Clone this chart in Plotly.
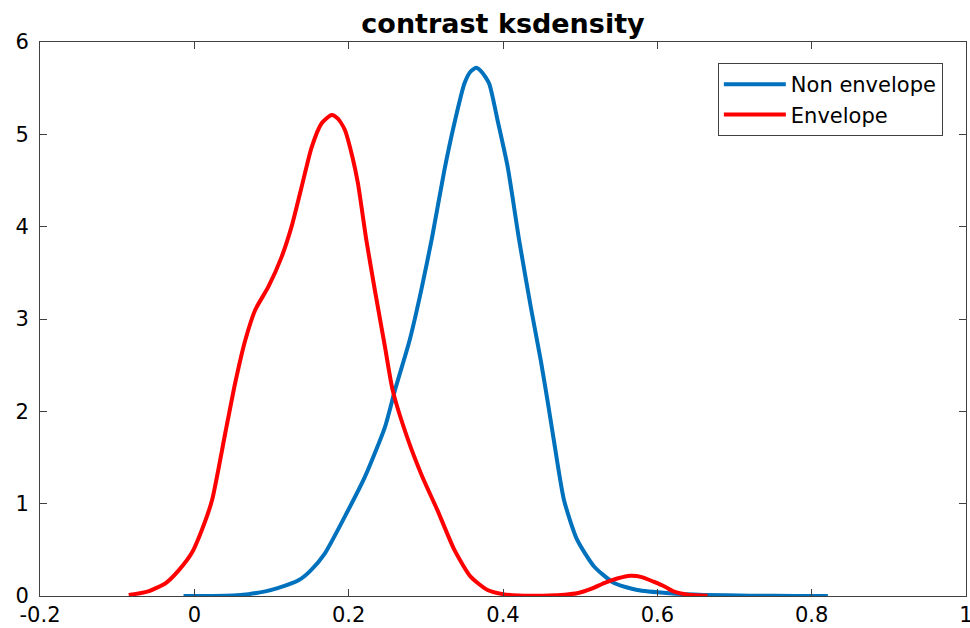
import plotly.graph_objects as go

# Envelope (red) kernel density estimate
x_env = [-0.085, -0.06, -0.037, -0.02, -0.003, 0.01, 0.023, 0.04, 0.053, 0.066, 0.079, 0.096,
         0.113, 0.126, 0.139, 0.152, 0.165, 0.178, 0.186, 0.195, 0.205, 0.212, 0.223, 0.234,
         0.247, 0.257, 0.277, 0.295, 0.315, 0.337, 0.358, 0.38, 0.40, 0.42, 0.44, 0.46, 0.48,
         0.496, 0.515, 0.531, 0.548, 0.565, 0.58, 0.595, 0.61, 0.621, 0.64, 0.665]
y_env = [0.01, 0.05, 0.14, 0.28, 0.47, 0.72, 1.04, 1.76, 2.31, 2.77, 3.10, 3.35,
         3.67, 4.0, 4.43, 4.86, 5.12, 5.21, 5.17, 5.05, 4.75, 4.47, 3.85, 3.31,
         2.70, 2.23, 1.69, 1.30, 0.93, 0.50, 0.21, 0.065, 0.02, 0.005, 0.003, 0.005, 0.015,
         0.03, 0.08, 0.14, 0.19, 0.22, 0.205, 0.155, 0.10, 0.05, 0.015, 0.002]

# Non envelope (blue) kernel density estimate
x_non = [-0.014, 0.02, 0.05, 0.07, 0.092, 0.11, 0.135, 0.15, 0.169, 0.195, 0.221, 0.247,
         0.26, 0.279, 0.294, 0.308, 0.324, 0.337, 0.35, 0.358, 0.365, 0.372, 0.382, 0.393,
         0.406, 0.421, 0.436, 0.449, 0.458, 0.466, 0.479, 0.496, 0.518, 0.544, 0.574, 0.616,
         0.66, 0.72, 0.78, 0.821]
y_non = [0.0, 0.001, 0.005, 0.02, 0.05, 0.09, 0.17, 0.27, 0.46, 0.86, 1.29, 1.83,
         2.23, 2.77, 3.31, 3.88, 4.61, 5.12, 5.55, 5.68, 5.72, 5.68, 5.55, 5.15,
         4.65, 3.85, 3.13, 2.55, 2.10, 1.68, 1.04, 0.61, 0.32, 0.14, 0.065, 0.03,
         0.012, 0.004, 0.001, 0.0]

x_ticks = [-0.2, 0, 0.2, 0.4, 0.6, 0.8, 1]
x_tick_labels = ["-0.2", "0", "0.2", "0.4", "0.6", "0.8", "1"]
y_ticks = [0, 1, 2, 3, 4, 5, 6]

FONT = "DejaVu Sans, Liberation Sans, Arial, sans-serif"
AX = "#404040"

fig = go.Figure()
fig.add_trace(go.Scatter(x=x_non, y=y_non, mode="lines", name="Non envelope",
                         line=dict(color="#0072BD", width=4, shape="spline", smoothing=0.6)))
fig.add_trace(go.Scatter(x=x_env, y=y_env, mode="lines", name="Envelope",
                         line=dict(color="#FF0000", width=4, shape="spline", smoothing=0.6)))

axis_common = dict(showgrid=False, zeroline=False, showline=True, linecolor=AX, linewidth=1,
                   mirror="allticks", ticks="inside", ticklen=7, tickcolor=AX,
                   automargin=False, ticklabeloverflow="allow",
                   tickfont=dict(family=FONT, size=21, color="#000000"))

fig.update_layout(
    width=970, height=628,
    margin=dict(l=40, r=4, t=42, b=32),
    paper_bgcolor="white", plot_bgcolor="white",
    title=dict(text="<b>contrast ksdensity</b>", x=(503 / 970), xanchor="center",
               y=1 - 24 / 628, yanchor="middle",
               font=dict(family=FONT, size=27, color="#000000")),
    xaxis=dict(range=[-0.2, 1], tickvals=x_ticks, ticktext=x_tick_labels, **axis_common),
    yaxis=dict(range=[0, 6], tickvals=y_ticks, ticklabelstandoff=6, **axis_common),
    legend=dict(x=0.975, y=0.962, xanchor="right", yanchor="top",
                bordercolor=AX, borderwidth=1, bgcolor="white",
                font=dict(family=FONT, size=21, color="#000000"),
                itemwidth=62, tracegroupgap=0),
    showlegend=True,
)

fig.write_html("out.html")
